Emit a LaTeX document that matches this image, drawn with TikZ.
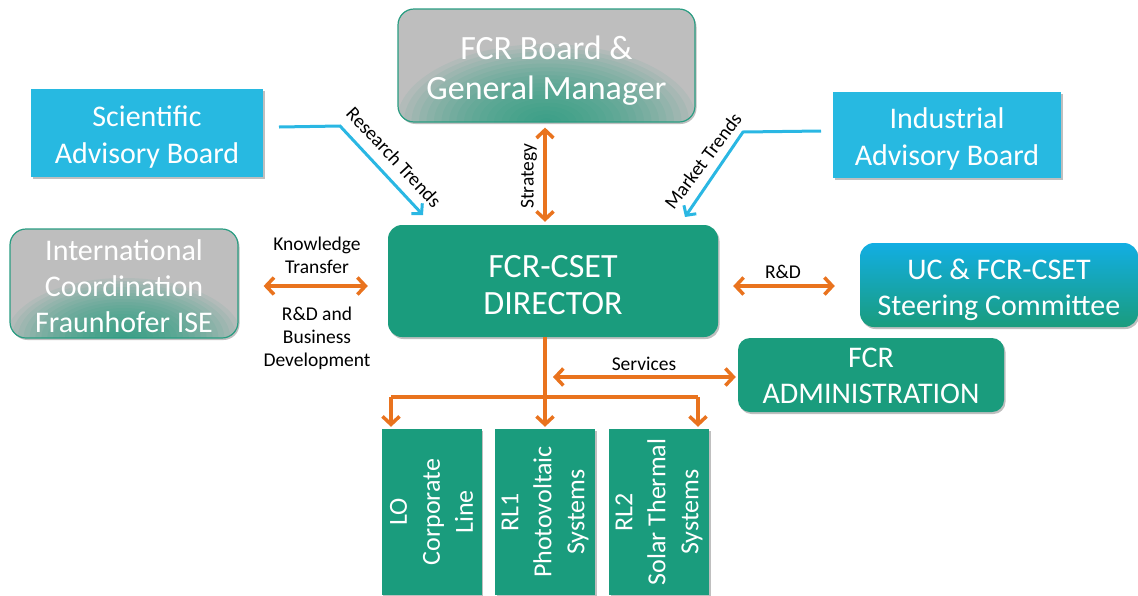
\documentclass[tikz,border=0pt]{standalone}
\usepackage{fontspec}
\setmainfont{Carlito}
\usetikzlibrary{arrows.meta,shadows,calc}
\definecolor{cyanbox}{HTML}{27B9E1}
\definecolor{cyantop}{HTML}{12AEE3}
\definecolor{tealbox}{HTML}{1A9C7D}
\definecolor{tealglow}{HTML}{219E7F}
\definecolor{grayglow}{HTML}{BEBEBE}
\definecolor{grayborder}{HTML}{2A9D82}
\definecolor{orng}{HTML}{E9731E}
\definecolor{cyanline}{HTML}{2AB7E3}
\tikzset{
  x=1pt, y=-1pt,
  shd/.style={drop shadow={shadow xshift=1.5pt, shadow yshift=-2pt, opacity=0.25, fill=black}},
  base/.style={rectangle, inner sep=0pt, align=center, text=white, shd},
  cyanrect/.style={base, fill=cyanbox},
  boxtxt/.style={text=white, align=center, inner sep=0pt, font=\fontsize{30}{37}\selectfont},
  tealround/.style={base, fill=tealbox, rounded corners=14pt},
  grayround/.style={base, fill=grayglow, draw=grayborder, line width=1.2pt, rounded corners=16pt},
  glow/.style 2 args={path picture={\foreach \k in {1,...,20}{\fill[tealglow, opacity=0.075] (path picture bounding box.south) ellipse [x radius=\k*#1/20, y radius=\k*#2/20];}}},
  vbox/.style={base, fill=tealbox, minimum width=100pt, minimum height=166pt},
  vtext/.style={text=white, align=center, rotate=90, font=\fontsize{26}{33}\selectfont},
  oarr/.style={draw=orng, line width=3.5pt, -{Straight Barb[length=8pt,width=17pt,line width=3.5pt]}},
  odarr/.style={draw=orng, line width=3.5pt, {Straight Barb[length=8pt,width=17pt,line width=3.5pt]}-{Straight Barb[length=8pt,width=17pt,line width=3.5pt]}},
  oline/.style={draw=orng, line width=3.5pt},
  carr/.style={draw=cyanline, line width=3pt, -{Straight Barb[length=7pt,width=15pt,line width=3pt]}},
  lbl/.style={text=black, align=center, font=\fontsize{19.5}{23}\selectfont},
}
\begin{document}
\begin{tikzpicture}
\useasboundingbox (0,0) rectangle (1138,595);
% boxes
\node[cyanrect, minimum width=232pt, minimum height=88pt] (sab) at (147,133) {};
\node[boxtxt] (sabtxt) at ($(sab.center)+(0,4.5)$) {Scientific\\Advisory Board};
\node[cyanrect, minimum width=228pt, minimum height=86pt] (iab) at (947,135) {};
\node[boxtxt] (iabtxt) at ($(iab.center)+(0,3.5)$) {Industrial\\Advisory Board};
\node[grayround, minimum width=297pt, minimum height=113pt, glow={150pt}{78pt}] (board) at (546.5,65.5) {};
\node[boxtxt, font=\fontsize{34}{40}\selectfont] (boardtxt) at ($(board.center)+(0,5)$) {FCR Board \&\\General Manager};
\node[grayround, minimum width=228pt, minimum height=109pt, glow={118pt}{60pt}] (intl) at (124,283.5) {};
\node[boxtxt, font=\fontsize{30}{36}\selectfont] (intltxt) at ($(intl.center)+(0,3)$) {International\\Coordination\\Fraunhofer ISE};
\node[tealround, minimum width=330pt, minimum height=112pt] (dir) at (553,281) {};
\node[boxtxt, font=\fontsize{34}{37}\selectfont] (dirtxt) at ($(dir.center)+(0,4.5)$) {FCR-CSET\\DIRECTOR};
\node[base, rounded corners=14pt, top color=cyantop, bottom color=tealbox, shading angle=0,
  minimum width=278pt, minimum height=84pt] (steer) at (999,285) {};
\node[boxtxt, font=\fontsize{30}{36}\selectfont] (steertxt) at ($(steer.center)+(0,5)$) {UC \& FCR-CSET\\Steering Committee};
\node[tealround, rounded corners=12pt, minimum width=266pt, minimum height=74pt] (admin) at (871,375) {};
\node[boxtxt, font=\fontsize{30}{36}\selectfont] (admintxt) at ($(admin.center)+(0,1)$) {FCR\\ADMINISTRATION};
\node[vbox] (lo) at (431.5,512) {};
\node[vtext] (lotxt) at (lo.center) {LO\\Corporate\\Line};
\node[vbox] (rl1) at (545,512) {};
\node[vtext] (rl1txt) at (rl1.center) {RL1\\Photovoltaic\\Systems};
\node[vbox] (rl2) at (659,512) {};
\node[vtext] (rl2txt) at (rl2.center) {RL2\\Solar Thermal\\Systems};
% cyan trend arrows
\coordinate (rt0) at (279,127);
\coordinate (rt1) at (340,126);
\coordinate (rt2) at (423,215);
\draw[carr] (rt0) -- (rt1) -- (rt2);
\coordinate (mt0) at (821,131);
\coordinate (mt1) at (743,132);
\coordinate (mt2) at (685,217);
\draw[carr] (mt0) -- (mt1) -- (mt2);
\node[lbl, rotate=-47] (rtl) at (394,157) {Research Trends};
\node[lbl, rotate=53] (mtl) at (703,161) {Market Trends};
% strategy
\coordinate (sx) at (545,0);
\draw[odarr, shorten <=3pt, shorten >=5pt] (dir.north -| sx) -- (board.south -| sx);
\node[lbl, rotate=90] (strl) at (529,176) {Strategy};
% knowledge transfer
\coordinate (ky) at (0,286);
\draw[odarr] ($(intl.east |- ky)+(25,0)$) -- ($(dir.west |- ky)+(-20,0)$);
\node[lbl] (ktl) at (317,255) {Knowledge\\Transfer};
\node[lbl] (rdl) at (317,338) {R\&D and\\Business\\Development};
% R&D
\draw[odarr] ($(dir.east |- ky)+(15,0)$) -- ($(steer.west |- ky)+(-25,0)$);
\node[lbl] (rdl2) at (783,272) {R\&D};
% services
\coordinate (sv0) at (553,377);
\draw[odarr, shorten >=2pt] (sv0) -- (admin.west |- sv0);
\node[lbl] (svl) at (644,364) {Services};
% distribution
\coordinate (busL) at (391,397);
\coordinate (busR) at (698,397);
\draw[oline] (busL) -- (busR);
\draw[oarr, shorten >=2pt] (dir.south -| sx) -- (rl1.north);
\draw[oarr, shorten >=2pt] (busL) -- (busL |- lo.north);
\draw[oarr, shorten >=2pt] (busR) -- (busR |- rl2.north);
\end{tikzpicture}
\end{document}
